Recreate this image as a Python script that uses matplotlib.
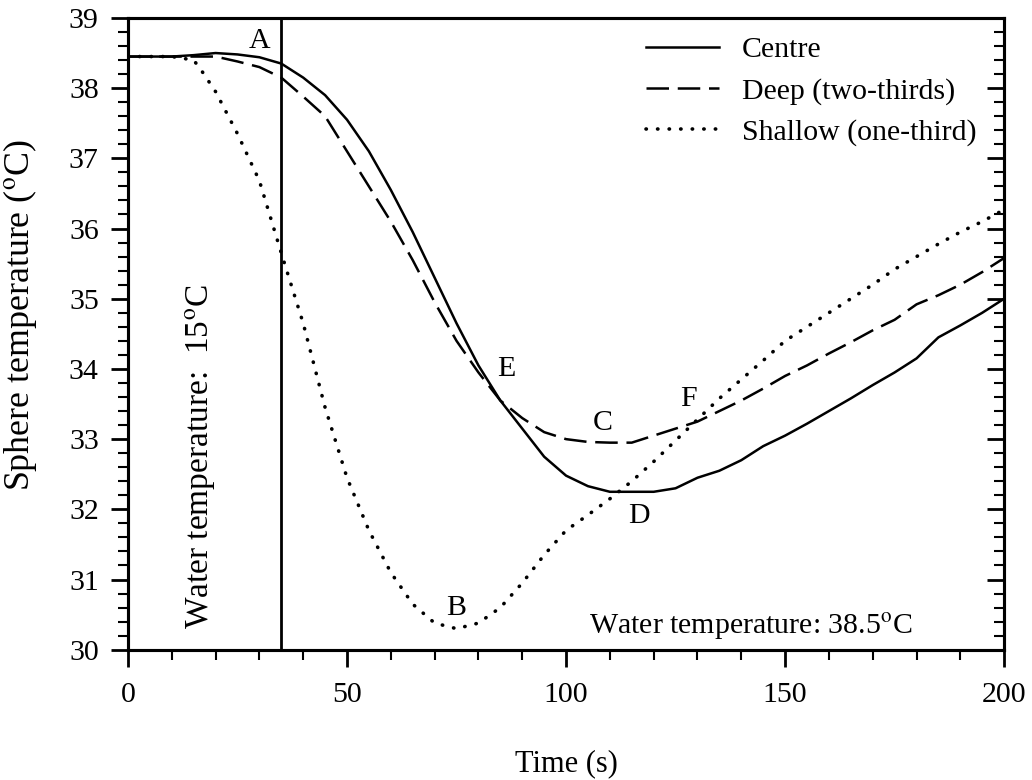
import matplotlib
matplotlib.use("Agg")
import matplotlib.pyplot as plt
from matplotlib.ticker import MultipleLocator

plt.rcParams["font.family"] = ["Liberation Serif", "DejaVu Serif"]
plt.rcParams["mathtext.fontset"] = "stix"

# time axis (s)
t = [0, 10, 15, 20, 25, 30, 35, 40, 45, 50, 55, 60, 65, 70, 75, 80, 85, 90, 95, 100,
     105, 110, 115, 120, 125, 130, 135, 140, 145, 150, 155, 160, 165, 170, 175, 180,
     185, 190, 195, 200]

centre = [38.45, 38.45, 38.47, 38.50, 38.48, 38.44, 38.35, 38.15, 37.90, 37.55,
          37.10, 36.55, 35.95, 35.30, 34.65, 34.05, 33.55, 33.15, 32.75, 32.48,
          32.33, 32.25, 32.25, 32.25, 32.30, 32.45, 32.55, 32.70, 32.90, 33.05,
          33.22, 33.40, 33.58, 33.77, 33.95, 34.15, 34.45, 34.62, 34.80, 35.00]

deep = [38.45, 38.45, 38.45, 38.45, 38.38, 38.30, 38.15, 37.88, 37.60, 37.10,
        36.60, 36.10, 35.55, 34.95, 34.40, 33.95, 33.55, 33.30, 33.10, 33.00,
        32.96, 32.95, 32.95, 33.05, 33.15, 33.25, 33.40, 33.55, 33.72, 33.90,
        34.05, 34.22, 34.38, 34.55, 34.70, 34.92, 35.05, 35.20, 35.38, 35.58]

t_shallow = [0, 10, 15, 17, 20, 25, 30, 35, 40, 45, 50, 55, 60, 65, 70, 75, 80, 85,
             90, 95, 100, 105, 110, 115, 120, 125, 130, 135, 140, 145, 150, 155, 160,
             165, 170, 175, 180, 185, 190, 195, 200]
shallow = [38.45, 38.45, 38.40, 38.23, 37.95, 37.35, 36.68, 35.65, 34.65, 33.45,
           32.45, 31.70, 31.10, 30.65, 30.38, 30.30, 30.38, 30.60, 30.95, 31.35,
           31.70, 31.92, 32.15, 32.40, 32.68, 32.98, 33.28, 33.58, 33.85, 34.12,
           34.40, 34.60, 34.80, 35.00, 35.20, 35.42, 35.60, 35.78, 35.95, 36.10,
           36.27]

immersion_time = 35
point_labels = ["A", "B", "C", "D", "E", "F"]
point_x = [30, 75, 108.3, 116.6, 86.4, 128]
point_y = [38.67, 30.6, 33.23, 31.9, 34.0, 33.57]

fs = 21.5

fig = plt.figure(figsize=(10.32, 7.8), dpi=100)
ax = fig.add_axes([0.124, 0.167, 0.849, 0.810])

ax.plot(t, centre, color="black", lw=1.8, label="Centre")
ax.plot(t, deep, color="black", lw=1.8, linestyle=(0, (9, 3.5)), label="Deep (two-thirds)")
ax.plot(t_shallow, shallow, color="black", lw=2.6, linestyle=(0, (0.1, 3.1)),
        dash_capstyle="round", label="Shallow (one-third)")
ax.axvline(immersion_time, color="black", lw=2)

for lab, x, y in zip(point_labels, point_x, point_y):
    ax.text(x, y, lab, fontsize=fs, ha="center", va="center")

ax.text(16.7, 32.75, r"Water temperature:  15$^{\mathrm{o}}$C", rotation=90,
        fontsize=24, ha="center", va="center")
ax.text(142.2, 30.33, r"Water temperature: 38.5$^{\mathrm{o}}$C", fontsize=fs,
        ha="center", va="center")

ax.set_xlim(0, 200)
ax.set_ylim(30, 39)
ax.xaxis.set_major_locator(MultipleLocator(50))
ax.xaxis.set_minor_locator(MultipleLocator(10))
ax.yaxis.set_major_locator(MultipleLocator(1))
ax.yaxis.set_minor_locator(MultipleLocator(0.2))

ax.tick_params(axis="both", which="major", direction="out", length=12, width=2,
               labelsize=fs, pad=9, top=False, right=False)
ax.tick_params(axis="x", which="major", pad=11)
ax.tick_params(axis="both", which="minor", direction="out", length=7, width=1.5,
               top=False, right=False)
for s in ax.spines.values():
    s.set_linewidth(2.2)

# inward ticks on the right side
ax2 = ax.twinx()
ax2.set_ylim(30, 39)
ax2.yaxis.set_major_locator(MultipleLocator(1))
ax2.yaxis.set_minor_locator(MultipleLocator(0.2))
ax2.tick_params(axis="y", which="major", direction="in", length=12, width=2, labelright=False)
ax2.tick_params(axis="y", which="minor", direction="in", length=7, width=1.5)
for s in ax2.spines.values():
    s.set_linewidth(2.2)

ax.set_xlabel("Time (s)", fontsize=22, labelpad=30)
ax.set_ylabel(r"Sphere temperature ($^{\mathrm{o}}$C)", fontsize=25.8)
ax.yaxis.set_label_coords(-0.102, 0.53)

leg = ax.legend(loc="upper right", frameon=False, fontsize=fs, handlelength=2.45,
                handletextpad=0.75, labelspacing=0.48, borderaxespad=0.0,
                bbox_to_anchor=(0.982, 0.99))

fig.savefig("out.png", dpi=100)
